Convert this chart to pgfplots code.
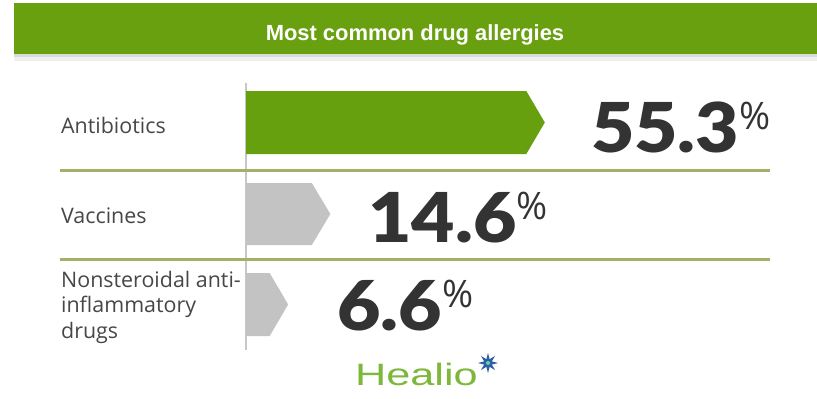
\documentclass[border=0pt]{standalone}
\usepackage{fontspec}
\setmainfont{Open Sans}
\newfontfamily\titlefont{Liberation Sans}
\newfontfamily\numfont{Lato Black}
\newfontfamily\logofont{Liberation Sans}
\usepackage{pgfplots}
\pgfplotsset{compat=1.18}
\usetikzlibrary{shapes.geometric}
\definecolor{hgreen}{HTML}{68A00F}
\definecolor{bargreen}{HTML}{66A00E}
\definecolor{bargray}{HTML}{C3C3C3}
\definecolor{sepline}{HTML}{A3B067}
\definecolor{numtxt}{HTML}{333333}
\definecolor{lbl}{HTML}{474747}
\definecolor{logogreen}{HTML}{7DB83A}
\definecolor{logoblue}{HTML}{2F5FA0}
\newcommand{\val}[1]{\scalebox{1.09}[1]{\numfont\fontsize{69}{69}\selectfont #1}\raisebox{23bp}{\normalfont\fontsize{38}{38}\selectfont\%}}
\begin{document}
\begin{tikzpicture}
\begin{axis}[scale only axis, width=817bp, height=399bp, hide axis,
  xmin=-48.08, xmax=106.95, ymin=0, ymax=399, y dir=reverse, clip=false]
% background
\fill[white] (axis cs:-48.08,0) rectangle (axis cs:106.95,399);
% banner
\fill[hgreen] (axis cs:-45.43,3) rectangle (axis cs:106.95,54);
\fill[black!14] (axis cs:-45.43,54) rectangle (axis cs:106.95,57);
\fill[black!6] (axis cs:-45.43,57) rectangle (axis cs:106.95,61);
\node[anchor=base, text=white, inner sep=0] at (axis cs:30.66,40)
  {\titlefont\bfseries\fontsize{22}{22}\selectfont Most common drug allergies};
% baseline
\draw[black!22, line width=1.2bp] (axis cs:-1.40,83) -- (axis cs:-1.40,350);
% separators
\draw[sepline, line width=3bp] (axis cs:-36.70,170) -- (axis cs:98.03,170);
\draw[sepline, line width=3bp] (axis cs:-36.70,259) -- (axis cs:98.03,259);
% bars (arrow shaped), tip at the value
\addplot[fill=bargreen, draw=none, mark=none] coordinates
  {(-1.40,91) (51.79,91) (55.3,122.5) (51.79,154) (-1.40,154)} -- cycle;
\addplot[fill=bargray, draw=none, mark=none] coordinates
  {(-1.40,183) (11.09,183) (14.6,214) (11.09,245) (-1.40,245)} -- cycle;
\addplot[fill=bargray, draw=none, mark=none] coordinates
  {(-1.40,273) (3.09,273) (6.6,304.5) (3.09,336) (-1.40,336)} -- cycle;
% values
\node[anchor=base west, inner sep=0, xshift=46bp, text=numtxt] at (axis cs:55.3,152) {\val{55.3}};
\node[anchor=base west, inner sep=0, xshift=38bp, text=numtxt] at (axis cs:14.6,242) {\val{14.6}};
\node[anchor=base west, inner sep=0, xshift=49bp, text=numtxt] at (axis cs:6.6,330) {\val{6.6}};
% category labels
\node[anchor=base west, inner sep=0, text=lbl, font=\fontsize{21.5}{24}\selectfont] at (axis cs:-36.51,133) {Antibiotics};
\node[anchor=base west, inner sep=0, text=lbl, font=\fontsize{21.5}{24}\selectfont] at (axis cs:-36.51,223) {Vaccines};
\node[anchor=base west, inner sep=0, text=lbl, font=\fontsize{21.5}{24}\selectfont] at (axis cs:-36.51,287) {Nonsteroidal anti-};
\node[anchor=base west, inner sep=0, text=lbl, font=\fontsize{21.5}{24}\selectfont] at (axis cs:-36.51,312.5) {inflammatory};
\node[anchor=base west, inner sep=0, text=lbl, font=\fontsize{21.5}{24}\selectfont] at (axis cs:-36.51,338) {drugs};
% logo
\node[anchor=base, inner sep=0, text=logogreen] at (axis cs:30.95,385)
  {\scalebox{1.4}[1]{\logofont\fontsize{31}{31}\selectfont Healio}};
\node[star, star points=8, star point ratio=2.4, fill=logoblue, minimum size=20bp, inner sep=0] at (axis cs:44.52,363) {};
\node[circle, fill=cyan!60!green!60, minimum size=4bp, inner sep=0] at (axis cs:44.52,363) {};
\end{axis}
\end{tikzpicture}
\end{document}
